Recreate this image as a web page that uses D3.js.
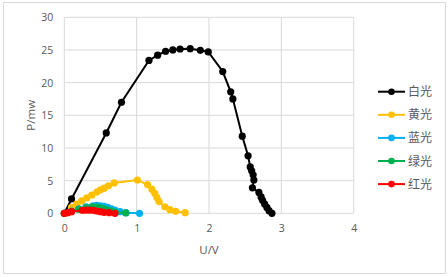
<!DOCTYPE html>
<html>
<head>
<meta charset="utf-8">
<script src="https://cdn.jsdelivr.net/npm/d3@7"></script>
<style>
  body { margin: 0; background: #fff; }
  text { font-family: "Open Sans", "Noto Sans", sans-serif; fill: #595959; }
</style>
</head>
<body>
<div id="chart"></div>
<script>
// data: [U (V), P (mW)]
const white = [[0, 0], [0.1, 2.2], [0.58, 12.3], [0.79, 17.0], [1.17, 23.4], [1.29, 24.2], [1.4, 24.8],
  [1.5, 25.0], [1.6, 25.15], [1.74, 25.2], [1.88, 24.95], [1.99, 24.7], [2.19, 21.7], [2.3, 18.6],
  [2.33, 17.5], [2.46, 11.8], [2.54, 8.8], [2.57, 7.1], [2.59, 6.5], [2.61, 5.9], [2.62, 5.1],
  [2.6, 3.9], [2.69, 3.2], [2.72, 2.5], [2.74, 2.0], [2.77, 1.4], [2.8, 0.9], [2.83, 0.4], [2.87, 0.0]];
const yellow = [[0, 0], [0.1, 0.9], [0.17, 1.4], [0.24, 1.9], [0.31, 2.35], [0.38, 2.8], [0.45, 3.25],
  [0.5, 3.6], [0.55, 3.85], [0.61, 4.2], [0.69, 4.65], [1.01, 5.1], [1.15, 4.4], [1.21, 3.7],
  [1.25, 3.05], [1.28, 2.4], [1.31, 1.8], [1.39, 1.0], [1.46, 0.55], [1.54, 0.3], [1.67, 0.1]];
const blue = [[0, 0], [0.1, 0.35], [0.2, 0.7], [0.3, 1.0], [0.4, 1.15], [0.45, 1.2], [0.5, 1.15],
  [0.55, 1.05], [0.6, 0.9], [0.65, 0.7], [0.7, 0.5], [0.77, 0.25], [0.85, 0.1], [1.04, 0.0]];
const green = [[0, 0], [0.1, 0.3], [0.2, 0.6], [0.3, 0.85], [0.38, 1.0], [0.45, 0.95], [0.5, 0.85],
  [0.55, 0.7], [0.6, 0.5], [0.65, 0.35], [0.7, 0.2], [0.85, 0.05]];
const red = [[0, 0], [0.05, 0.1], [0.1, 0.25], [0.25, 0.45], [0.3, 0.5], [0.35, 0.5], [0.4, 0.45],
  [0.45, 0.35], [0.5, 0.25], [0.55, 0.15], [0.62, 0.1], [0.7, 0.0]];

const seriesNames = ["白光", "黄光", "蓝光", "绿光", "红光"];
const seriesColors = ["#000000", "#FFC000", "#00B0F0", "#00B050", "#FF0000"];
const xTicks = [0, 1, 2, 3, 4];
const yTicks = [0, 5, 10, 15, 20, 25, 30];

const series = [white, yellow, blue, green, red].map((pts, i) => ({
  name: seriesNames[i], color: seriesColors[i], pts: pts
}));

const W = 448, H = 277;
const margin = { top: 17.3, left: 64.3, right: 94.3, bottom: 63.7 };

const svg = d3.select("#chart").append("svg")
  .attr("width", W)
  .attr("height", H);

// chart border
svg.append("rect")
  .attr("x", 3.5).attr("y", 2.5)
  .attr("width", 442).attr("height", 271)
  .attr("fill", "#fff")
  .attr("stroke", "#d9d9d9");

const x = d3.scaleLinear().domain([0, 4]).range([margin.left, W - margin.right]);
const y = d3.scaleLinear().domain([0, 30]).range([H - margin.bottom, margin.top]);

// gridlines
svg.append("g")
  .selectAll("line.h")
  .data(yTicks)
  .join("line")
  .attr("x1", x(0)).attr("x2", x(4))
  .attr("y1", d => y(d)).attr("y2", d => y(d))
  .attr("stroke", "#d9d9d9").attr("stroke-width", 1);

svg.append("g")
  .selectAll("line.v")
  .data(xTicks)
  .join("line")
  .attr("x1", d => x(d)).attr("x2", d => x(d))
  .attr("y1", y(0)).attr("y2", y(30))
  .attr("stroke", "#d9d9d9").attr("stroke-width", 1);

// axes (labels only)
const xAxis = svg.append("g")
  .attr("transform", `translate(0,${y(0)})`)
  .call(d3.axisBottom(x).tickValues(xTicks).tickFormat(d3.format("d")).tickSize(0).tickPadding(11));
const yAxis = svg.append("g")
  .attr("transform", `translate(${x(0)},0)`)
  .call(d3.axisLeft(y).tickValues(yTicks).tickFormat(d3.format("d")).tickSize(0).tickPadding(11));
[xAxis, yAxis].forEach(a => {
  a.select(".domain").remove();
  a.selectAll("text")
    .style("font-family", "'Open Sans', sans-serif")
    .style("font-size", "10.5px")
    .attr("fill", "#595959");
});

// axis titles
svg.append("text")
  .attr("x", x(2)).attr("y", 254)
  .attr("text-anchor", "middle")
  .style("font-size", "11.5px")
  .text("U/V");

svg.append("text")
  .attr("transform", `translate(35,${y(15)}) rotate(-90)`)
  .attr("text-anchor", "middle")
  .style("font-size", "11.5px")
  .text("P/mw");

// lines + markers
const line = d3.line().x(d => x(d[0])).y(d => y(d[1]));

series.forEach(s => {
  const g = svg.append("g");
  g.append("path")
    .attr("d", line(s.pts))
    .attr("fill", "none")
    .attr("stroke", s.color)
    .attr("stroke-width", 2);
  g.selectAll("circle")
    .data(s.pts)
    .join("circle")
    .attr("cx", d => x(d[0]))
    .attr("cy", d => y(d[1]))
    .attr("r", 3.6)
    .attr("fill", s.color);
});

// legend
const legend = svg.append("g")
  .selectAll("g")
  .data(series)
  .join("g")
  .attr("transform", (d, i) => `translate(378,${91.7 + i * 23.1})`);

legend.append("line")
  .attr("x1", 0).attr("x2", 27)
  .attr("stroke", d => d.color)
  .attr("stroke-width", 2);
legend.append("circle")
  .attr("cx", 13.5).attr("r", 3.3)
  .attr("fill", d => d.color);
legend.append("text")
  .attr("x", 30).attr("dy", "0.38em")
  .style("font-family", "'Noto Sans CJK SC', sans-serif")
  .style("font-size", "12px")
  .text(d => d.name);
</script>
</body>
</html>
